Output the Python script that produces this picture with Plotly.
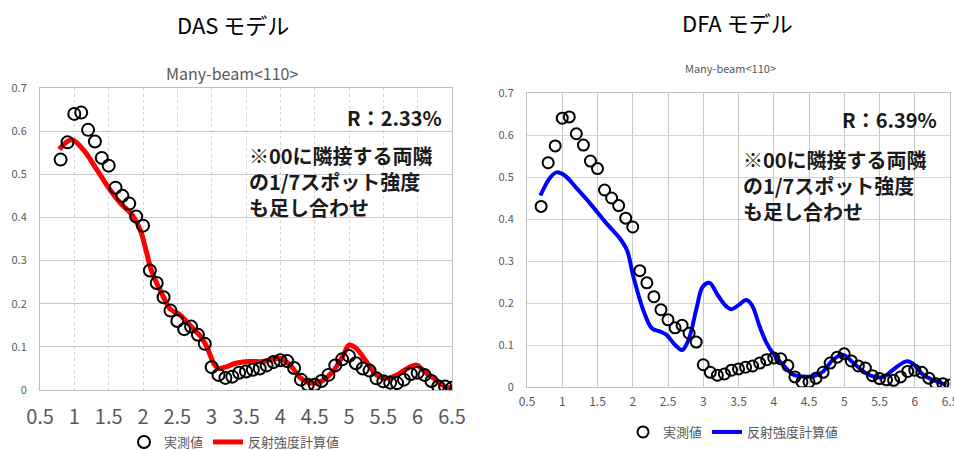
import plotly.graph_objects as go

W, H = 954, 450

# ---------------- data ----------------
meas_x = [0.7, 0.8, 0.9, 1.0, 1.1, 1.2, 1.3, 1.4, 1.5, 1.6, 1.7, 1.8, 1.9, 2.0,
          2.1, 2.2, 2.3, 2.4, 2.5, 2.6, 2.7, 2.8, 2.9, 3.0, 3.1, 3.2, 3.3, 3.4,
          3.5, 3.6, 3.7, 3.8, 3.9, 4.0, 4.1, 4.2, 4.3, 4.4, 4.5, 4.6, 4.7, 4.8,
          4.9, 5.0, 5.1, 5.2, 5.3, 5.4, 5.5, 5.6, 5.7, 5.8, 5.9, 6.0, 6.1, 6.2,
          6.3, 6.4, 6.5]
meas_y = [0.430, 0.534, 0.574, 0.640, 0.643, 0.603, 0.576, 0.538, 0.520, 0.469,
          0.450, 0.432, 0.402, 0.381, 0.277, 0.248, 0.215, 0.184, 0.160, 0.141,
          0.147, 0.128, 0.107, 0.053, 0.035, 0.028, 0.031, 0.040, 0.043, 0.047,
          0.050, 0.057, 0.065, 0.069, 0.067, 0.051, 0.024, 0.012, 0.012, 0.021,
          0.035, 0.057, 0.071, 0.079, 0.062, 0.050, 0.045, 0.027, 0.020, 0.017,
          0.016, 0.024, 0.037, 0.040, 0.035, 0.021, 0.008, 0.008, 0.005]

das_x = [0.78, 0.96, 1.13, 1.33, 1.52, 1.67, 1.84, 1.96, 2.05, 2.12, 2.30, 2.40,
         2.54, 2.70, 2.84, 2.93, 3.03, 3.10, 3.20, 3.35, 3.55, 3.75, 4.00, 4.14,
         4.30, 4.45, 4.60, 4.78, 4.93, 5.00, 5.10, 5.27, 5.40, 5.56, 5.70, 5.85,
         5.98, 6.10, 6.27, 6.40, 6.50]
das_y = [0.558, 0.580, 0.557, 0.510, 0.464, 0.433, 0.406, 0.371, 0.320, 0.278,
         0.215, 0.187, 0.174, 0.147, 0.124, 0.100, 0.062, 0.050, 0.053, 0.062,
         0.066, 0.066, 0.073, 0.058, 0.027, 0.016, 0.020, 0.046, 0.085, 0.104,
         0.097, 0.062, 0.035, 0.027, 0.035, 0.050, 0.058, 0.043, 0.023, 0.008,
         0.005]

dfa_x = [0.69, 0.83, 0.92, 1.04, 1.21, 1.40, 1.63, 1.82, 1.92, 2.01, 2.15, 2.27,
         2.39, 2.48, 2.60, 2.70, 2.79, 2.91, 2.99, 3.09, 3.19, 3.31, 3.40, 3.50,
         3.61, 3.69, 3.80, 3.90, 3.99, 4.13, 4.28, 4.42, 4.57, 4.70, 4.84, 4.98,
         5.13, 5.27, 5.41, 5.56, 5.69, 5.88, 5.97, 6.12, 6.27, 6.45]
dfa_y = [0.456, 0.499, 0.511, 0.503, 0.472, 0.436, 0.389, 0.353, 0.325, 0.262,
         0.183, 0.140, 0.132, 0.124, 0.100, 0.088, 0.112, 0.191, 0.238, 0.248,
         0.223, 0.195, 0.185, 0.195, 0.207, 0.195, 0.144, 0.104, 0.080, 0.053,
         0.029, 0.025, 0.026, 0.037, 0.065, 0.077, 0.057, 0.037, 0.025, 0.024,
         0.041, 0.061, 0.056, 0.029, 0.016, 0.005]

x_ticks = [0.5, 1, 1.5, 2, 2.5, 3, 3.5, 4, 4.5, 5, 5.5, 6, 6.5]
y_ticks = [0, 0.1, 0.2, 0.3, 0.4, 0.5, 0.6, 0.7]

titles = ["DAS モデル", "DFA モデル"]
subtitle = "Many-beam<110>"
r_texts = ["R：2.33%", "R：6.39%"]
note_text = "※00に隣接する両隣<br>の1/7スポット強度<br>も足し合わせ"
legend_names = ["実測値", "反射強度計算値"]

# ---------------- helpers ----------------
def px(x):
    return x / W

def py(y):
    return 1 - y / H

JP = "Noto Sans CJK JP"
GRAY = "#595959"

fig = go.Figure()

# Left chart (DAS)
fig.add_trace(go.Scatter(
    x=das_x, y=das_y, mode="lines", name=legend_names[1], legendrank=2,
    line=dict(color="#ff0000", width=5, shape="spline", smoothing=1.0),
    xaxis="x", yaxis="y", legend="legend"))
fig.add_trace(go.Scatter(
    x=meas_x[1:], y=meas_y[1:], mode="markers", name=legend_names[0], legendrank=1,
    marker=dict(symbol="circle-open", size=12, color="black",
                line=dict(width=2, color="black")),
    xaxis="x", yaxis="y", legend="legend"))

# Right chart (DFA)
fig.add_trace(go.Scatter(
    x=dfa_x, y=dfa_y, mode="lines", name=legend_names[1], legendrank=2,
    line=dict(color="#0000ff", width=4, shape="spline", smoothing=1.0),
    xaxis="x2", yaxis="y2", legend="legend2"))
fig.add_trace(go.Scatter(
    x=meas_x, y=meas_y, mode="markers", name=legend_names[0], legendrank=1,
    marker=dict(symbol="circle-open", size=11, color="black",
                line=dict(width=2, color="black")),
    xaxis="x2", yaxis="y2", legend="legend2"))

L_dom_x = [px(40), px(452)]
L_dom_y = [py(390), py(88)]
R_dom_x = [px(527), px(950)]
R_dom_y = [py(387), py(93)]

fig.update_layout(
    template="none",
    width=W, height=H,
    margin=dict(l=0, r=0, t=0, b=0, pad=0, autoexpand=False),
    paper_bgcolor="white", plot_bgcolor="white",
    font=dict(family=JP, color=GRAY),
    xaxis=dict(domain=L_dom_x, range=[0.5, 6.5], tickvals=x_ticks,
               ticktext=[str(t) for t in x_ticks], anchor="y",
               showgrid=True, gridcolor="#d4d4d4", griddash="dot", gridwidth=1,
               showline=True, linecolor="#bfbfbf", linewidth=1, mirror=True,
               zeroline=False, ticks="", ticklabelstandoff=9, automargin=False,
               ticklabeloverflow="allow",
               tickfont=dict(size=20, color=GRAY, family=JP)),
    yaxis=dict(domain=L_dom_y, range=[0, 0.7], tickvals=y_ticks,
               ticktext=[str(t) if t != 0 else "0" for t in y_ticks], anchor="x",
               showgrid=True, gridcolor="#c8c8c8", gridwidth=1,
               showline=True, linecolor="#bfbfbf", linewidth=1, mirror=True,
               zeroline=False, ticks="", ticklabelstandoff=10, automargin=False,
               tickfont=dict(size=11, color=GRAY, family=JP)),
    xaxis2=dict(domain=R_dom_x, range=[0.5, 6.5], tickvals=x_ticks,
                ticktext=[str(t) for t in x_ticks], anchor="y2",
                showgrid=True, gridcolor="#c8c8c8", gridwidth=1,
                showline=True, linecolor="#bfbfbf", linewidth=1, mirror=True,
                zeroline=False, ticks="", ticklabelstandoff=4, automargin=False,
                ticklabeloverflow="allow",
                tickfont=dict(size=12, color=GRAY, family=JP)),
    yaxis2=dict(domain=R_dom_y, range=[0, 0.7], tickvals=y_ticks,
                ticktext=[str(t) if t != 0 else "0" for t in y_ticks], anchor="x2",
                showgrid=True, gridcolor="#d4d4d4", gridwidth=1,
                showline=True, linecolor="#bfbfbf", linewidth=1, mirror=True,
                zeroline=False, ticks="", ticklabelstandoff=10, automargin=False,
                tickfont=dict(size=11, color=GRAY, family=JP)),
    legend=dict(orientation="h", x=px(124), y=py(442), xanchor="left", yanchor="middle",
                font=dict(size=13, color=GRAY, family=JP), bgcolor="rgba(0,0,0,0)",
                itemwidth=30, tracegroupgap=0, traceorder="normal"),
    legend2=dict(orientation="h", x=px(623), y=py(432), xanchor="left", yanchor="middle",
                 font=dict(size=13, color=GRAY, family=JP), bgcolor="rgba(0,0,0,0)",
                 itemwidth=30, tracegroupgap=0, traceorder="normal"),
    showlegend=True,
)

def A(text, x, y, size, color, xanchor="center", weight="normal", align="center"):
    return dict(text=text, x=px(x), y=py(y), xref="paper", yref="paper",
                xanchor=xanchor, yanchor="middle", align=align, showarrow=False,
                font=dict(size=size, color=color, family=JP, weight=weight))

ann = [
    A(titles[0], 233, 24, 22, "black"),
    A(titles[1], 737, 22, 22, "black"),
    A(subtitle, 232, 73, 16, GRAY),
    A(subtitle, 730, 68, 11, GRAY),
    A(r_texts[0], 444, 117, 20, "#1a1a1a", xanchor="right", weight="bold"),
    A(r_texts[1], 939, 120, 20, "#1a1a1a", xanchor="right", weight="bold"),
    A(note_text, 247, 181, 20, "#1a1a1a", xanchor="left", weight="bold", align="left"),
    A(note_text, 741, 185, 20, "#1a1a1a", xanchor="left", weight="bold", align="left"),
]
fig.update_layout(annotations=ann)

fig.write_html("out.html")
